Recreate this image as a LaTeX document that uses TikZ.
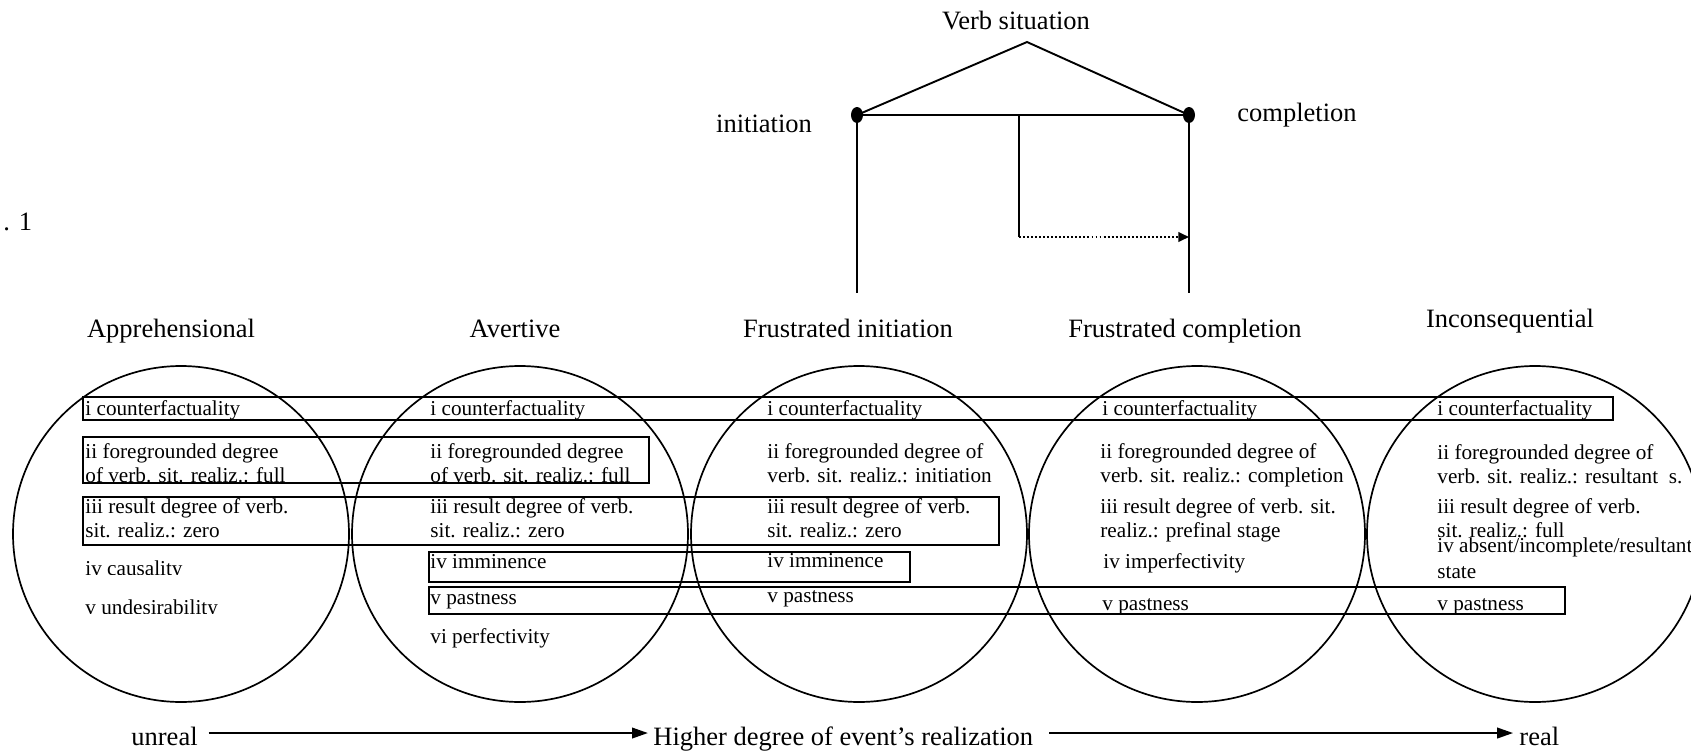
\documentclass[tikz,border=0pt]{standalone}
\usepackage{fontspec}
\setmainfont{Liberation Serif}
\usepackage{tikz}
\usetikzlibrary{arrows.meta}

\tikzset{
  ring/.style={line width=0.8pt},
  band/.style={line width=0.9pt},
  stem/.style={line width=1.1pt},
  item/.style={anchor=base west, inner sep=0pt, align=left,
    font=\fontsize{10}{11.3}\selectfont},
  head/.style={anchor=base, inner sep=0pt, font=\fontsize{12.5}{15}\selectfont},
  axislabel/.style={head, anchor=base west, text height=11.3pt, text depth=0pt}
}

\begin{document}
\begin{tikzpicture}[x=0.4717pt, y=-0.4717pt, >={Triangle[length=7.5pt, width=5pt]}]
  \useasboundingbox (0,0) rectangle (1691,752);
  % number
  \node[head, anchor=base west] (fignum) at (3,230) {. 1};
  % Verb situation
  \node[head] (verb) at (1016,29) {Verb situation};
  \coordinate (apex) at (1027,42);
  \coordinate (ini) at (857,115);
  \coordinate (cmp) at (1189,115);
  \coordinate (mid) at (1019,115);
  \coordinate (turn) at (1019,237);
  \coordinate (inifoot) at (857,293);
  \coordinate (cmpfoot) at (1189,293);
  \draw[band] (ini) -- (apex) -- (cmp);
  \draw[band] (ini) -- (cmp);
  \draw[stem] (ini) -- (inifoot);
  \draw[stem] (cmp) -- (cmpfoot);
  \draw[stem] (mid) -- (turn);
  \draw[-{Triangle[length=5pt, width=4.5pt]}, band, densely dotted] (turn) -- (turn -| cmp);
  \fill (ini) ellipse (6 and 8);
  \fill (cmp) ellipse (6 and 8);
  \node[head] (initiation) at (764,132) {initiation};
  \node[head] (completion) at (1297,121) {completion};
  % types
  \node[head] (appr) at (171,337) {Apprehensional};
  \node[head] (avert) at (515,337) {Avertive};
  \node[head] (frini) at (848,337) {Frustrated initiation};
  \node[head] (frcomp) at (1185,337) {Frustrated completion};
  \node[head] (incons) at (1510,327) {Inconsequential};
  % circles
  \draw[ring] (181,534) circle (168);
  \draw[ring] (520,534) circle (168);
  \draw[ring] (859,534) circle (168);
  \draw[ring] (1197,534) circle (168);
  \draw[ring] (1535,534) circle (168);
  % shared features
  \draw[band] (83,397) rectangle (1613,420);
  \draw[band] (83,437) rectangle (649,483);
  \draw[band] (83,497) rectangle (999,545);
  \draw[band] (429,552) rectangle (910,582);
  \draw[band] (429,587) rectangle (1565,614);
  % Apprehensional
  \node[item] (ap1) at (85,415) {i counterfactuality};
  \node[item] (ap2) at (85,482) {ii foregrounded degree\\of verb. sit. realiz.: full};
  \node[item] (ap3) at (85,537) {iii result degree of verb.\\sit. realiz.: zero};
  \begin{scope}
    \clip (0,550) rectangle (340,574);
    \node[item] (ap4) at (85,575) {iv causality};
  \end{scope}
  \begin{scope}
    \clip (0,590) rectangle (340,613.5);
    \node[item] (ap5) at (85,614) {v undesirability};
  \end{scope}
  % Avertive
  \node[item] (av1) at (430,415) {i counterfactuality};
  \node[item] (av2) at (430,482) {ii foregrounded degree\\of verb. sit. realiz.: full};
  \node[item] (av3) at (430,537) {iii result degree of verb.\\sit. realiz.: zero};
  \node[item] (av4) at (430,568) {iv imminence};
  \node[item] (av5) at (430,604) {v pastness};
  \node[item] (av6) at (430,643) {vi perfectivity};
  % Frustrated initiation
  \node[item] (fi1) at (767,415) {i counterfactuality};
  \node[item] (fi2) at (767,482) {ii foregrounded degree of\\verb. sit. realiz.: initiation};
  \node[item] (fi3) at (767,537) {iii result degree of verb.\\sit. realiz.: zero};
  \node[item] (fi4) at (767,567) {iv imminence};
  \node[item] (fi5) at (767,602) {v pastness};
  % Frustrated completion
  \node[item] (fc1) at (1102,415) {i counterfactuality};
  \node[item] (fc2) at (1100,482) {ii foregrounded degree of\\verb. sit. realiz.: completion};
  \node[item] (fc3) at (1100,537) {iii result degree of verb. sit.\\realiz.: prefinal stage};
  \node[item] (fc4) at (1103,568) {iv imperfectivity};
  \node[item] (fc5) at (1102,610) {v pastness};
  % Inconsequential
  \node[item] (ic1) at (1437,415) {i counterfactuality};
  \node[item] (ic2) at (1437,483) {ii foregrounded degree of\\verb. sit. realiz.: resultant~~s.};
  \node[item] (ic3) at (1437,537) {iii result degree of verb.\\sit. realiz.: full};
  \node[item, font=\fontsize{10}{11.8}\selectfont] (ic4) at (1437,578) {iv absent/incomplete/resultant\\state};
  \node[item] (ic5) at (1437,610) {v pastness};
  % scale of realization
  \node[axislabel] (unreal) at (131,745) {unreal};
  \node[axislabel] (higher) at (653,745) {Higher degree of event's realization};
  \node[axislabel] (real) at (1519,745) {real};
  \draw[->, band, shorten <=5pt, shorten >=2.4pt] (unreal) -- (higher);
  \draw[->, band, shorten <=7.5pt, shorten >=2.8pt] (higher) -- (real);
\end{tikzpicture}
\end{document}
